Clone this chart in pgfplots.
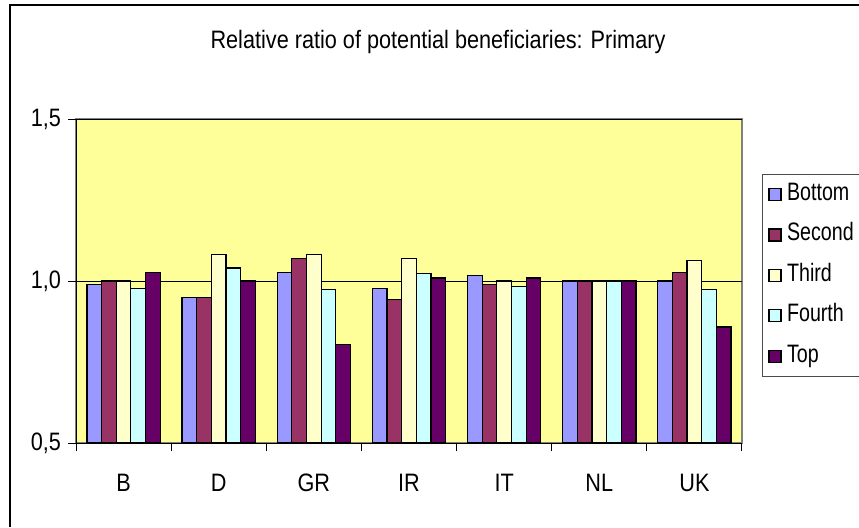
\documentclass[border=0pt]{standalone}
\usepackage{fontspec}
\setmainfont{Liberation Sans}[FakeStretch=0.86]
\newfontfamily\legfont{Liberation Sans}[FakeStretch=0.78]
\usepackage{pgfplots}
\pgfplotsset{compat=1.18}

\definecolor{bottomc}{HTML}{9999FF}
\definecolor{secondc}{HTML}{993366}
\definecolor{thirdc}{HTML}{FFFFCC}
\definecolor{fourthc}{HTML}{CCFFFF}
\definecolor{topc}{HTML}{660066}
\definecolor{plotbg}{HTML}{FFFF99}

\begin{document}
\begin{tikzpicture}[font=\fontsize{12.6pt}{14pt}\selectfont]
\useasboundingbox (0,0) rectangle (429.5pt,-263.5pt);
\fill[white] (0,0) rectangle (429.5pt,-263.5pt);
\draw[line width=0.7pt] (5pt,-263.5pt) -- (5pt,-2.5pt) -- (429.5pt,-2.5pt);
\node[anchor=base] at (219pt,-24pt) {Relative ratio of potential beneficiaries: Primary};
\begin{axis}[
    at={(38pt,-59.5pt)}, anchor=north west,
    scale only axis,
    width=333pt, height=162pt,
    xmin=-0.5, xmax=6.5,
    ymin=0.5, ymax=1.5,
    axis x line*=bottom, axis y line*=left,
    axis line style={black, line width=0.5pt},
    axis background/.style={fill=plotbg, draw=black!50, line width=0.6pt},
    xtick={-0.5,0.5,...,6.5},
    x tick label as interval=true,
    xticklabels={B,D,GR,IR,IT,NL,UK},
    ytick={0.5,1.0,1.5},
    yticklabels={{0,5},{1,0},{1,5}},
    tick align=outside,
    major tick length=4pt,
    tick style={black, line width=0.5pt},
    ymajorgrids,
    grid style={black, line width=0.4pt},
    xticklabel style={yshift=-8pt},
    ybar=0pt,
    bar width=0.154,
    every axis plot/.append style={draw=black, line width=0.6pt},
    legend style={at={(1.03,0.83)}, anchor=north west, draw=black!70, fill=white,
        line width=0.5pt, inner xsep=3pt, inner ysep=4pt, row sep=8.2pt,
        font=\legfont\fontsize{12.6pt}{14pt}\selectfont,
        nodes={inner sep=0pt, text height=9pt, text depth=3pt}},
    legend cell align=left,
    legend image code/.code={\draw[#1, draw=black, line width=0.6pt] (0pt,-3pt) rectangle (6pt,3pt);
        \path (8.7pt,0pt);},
]
\addplot[fill=bottomc] coordinates {(0,0.990) (1,0.948) (2,1.027) (3,0.978) (4,1.016) (5,1.000) (6,1.000)};
\addlegendentry{Bottom}
\addplot[fill=secondc] coordinates {(0,1.000) (1,0.948) (2,1.069) (3,0.942) (4,0.990) (5,1.000) (6,1.027)};
\addlegendentry{Second}
\addplot[fill=thirdc] coordinates {(0,1.000) (1,1.082) (2,1.082) (3,1.069) (4,1.000) (5,1.000) (6,1.063)};
\addlegendentry{Third}
\addplot[fill=fourthc] coordinates {(0,0.978) (1,1.040) (2,0.973) (3,1.022) (4,0.984) (5,1.000) (6,0.973)};
\addlegendentry{Fourth}
\addplot[fill=topc] coordinates {(0,1.027) (1,1.000) (2,0.803) (3,1.009) (4,1.009) (5,1.000) (6,0.858)};
\addlegendentry{Top}
\end{axis}
\end{tikzpicture}
\end{document}
